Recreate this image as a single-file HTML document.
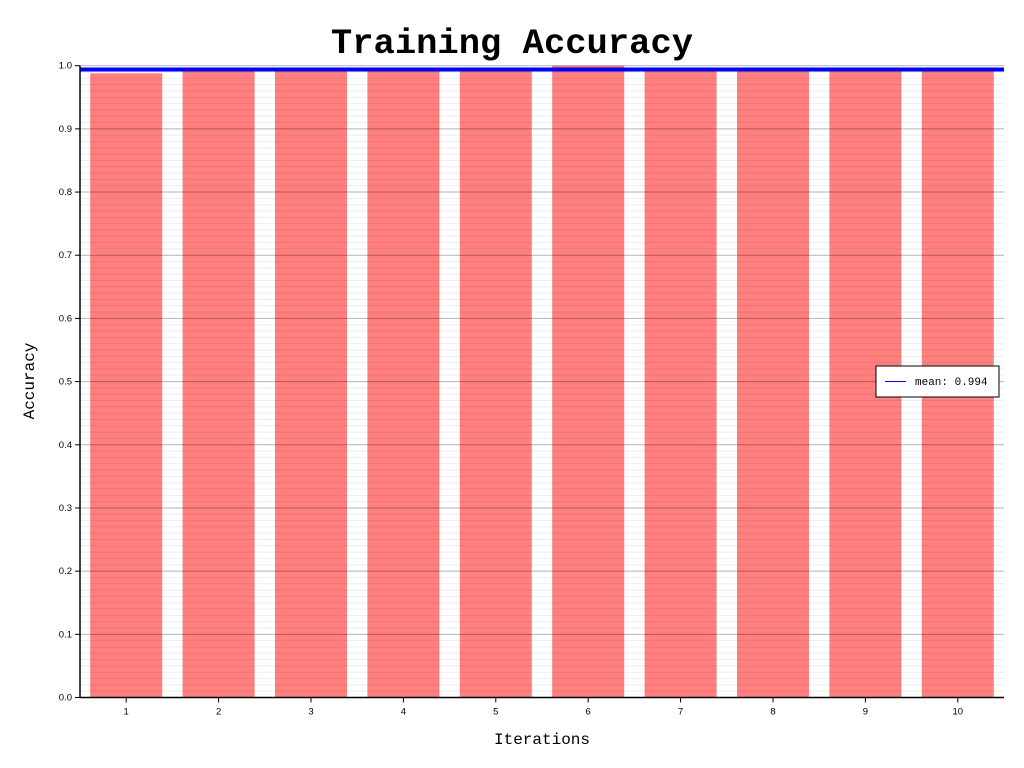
<!DOCTYPE html>
<html><head><meta charset="utf-8"><style>
body{margin:0;background:#fff;}
svg{display:block;font-family:"Liberation Sans",sans-serif;}
</style></head><body>
<svg id="chart" width="1024" height="768">
<text x="512" y="53" text-anchor="middle" font-family="Liberation Mono, monospace" font-weight="bold" font-size="35.5">Training Accuracy</text>
<text x="542" y="744" text-anchor="middle" font-family="Liberation Mono, monospace" font-size="16">Iterations</text>
<text transform="translate(34,381) rotate(-90)" text-anchor="middle" font-family="Liberation Mono, monospace" font-size="16">Accuracy</text>
<g id="grid"></g><g id="bars"></g><g id="axes"></g>
<g>
<rect x="876" y="366" width="123" height="31" fill="#fff" stroke="#000" stroke-width="1"/>
<line x1="885" y1="381.5" x2="906" y2="381.5" stroke="#0000ff" stroke-width="1"/>
<text x="915" y="385" font-family="Liberation Mono, monospace" font-size="11">mean: 0.994</text>
</g>
</svg>
<script>
const categories=["1","2","3","4","5","6","7","8","9","10"];
const accuracy=[0.988,0.992,0.992,0.992,0.992,1.0,0.992,0.992,0.992,0.992];
const meanValue=[0.994];
const yTicks=["0.0","0.1","0.2","0.3","0.4","0.5","0.6","0.7","0.8","0.9","1.0"];
const NS="http://www.w3.org/2000/svg";
const X0=80,X1=1004,Y0=697.5,Y1=65.7;
const y=v=>Y0-(Y0-Y1)*v;
const band=(X1-X0)/categories.length;
const xc=i=>X0+band*(i+0.5);
function mk(t,a,p){const e=document.createElementNS(NS,t);for(const k in a)e.setAttribute(k,a[k]);p.appendChild(e);return e;}
const grid=document.getElementById('grid'),bars=document.getElementById('bars'),axes=document.getElementById('axes');
categories.forEach((c,i)=>{
 const r=mk('rect',{x:xc(i)-36,y:y(accuracy[i]),width:72,height:Y0-y(accuracy[i]),fill:'#ff0000','fill-opacity':0.5},bars);
 
 
 mk('line',{x1:xc(i),x2:xc(i),y1:Y0,y2:Y0+5,stroke:'#000'},axes);
 const t=mk('text',{x:xc(i),y:Y0+17,'text-anchor':'middle','font-size':9.5},axes);t.textContent=c;
 
 
});
for(let k=1;k<100;k++){if(k%10)mk('line',{x1:X0,x2:X1,y1:y(k/100),y2:y(k/100),stroke:'#000','stroke-opacity':0.07,'stroke-width':1},bars);}
yTicks.forEach((s,i)=>{const v=parseFloat(s);
 if(i>0)mk('line',{x1:X0,x2:X1,y1:y(v),y2:y(v),stroke:'#000','stroke-opacity':0.3},bars);
 mk('line',{x1:X0-5,x2:X0,y1:y(v),y2:y(v),stroke:'#000'},axes);
 const t=mk('text',{x:X0-8,y:y(v)+3,'text-anchor':'end','font-size':9.5},axes);t.textContent=s;
 
 
});
const ml=mk('line',{x1:X0,x2:X1,y1:y(meanValue[0]),y2:y(meanValue[0]),stroke:'#0000ff','stroke-width':4},axes);


const xa=mk('line',{x1:X0,x2:X1,y1:Y0,y2:Y0,stroke:'#000','stroke-width':1.5},axes);


const ya=mk('line',{x1:X0,x2:X0,y1:Y1,y2:Y0,stroke:'#000','stroke-width':1.5},axes);


</script>
</body></html>
